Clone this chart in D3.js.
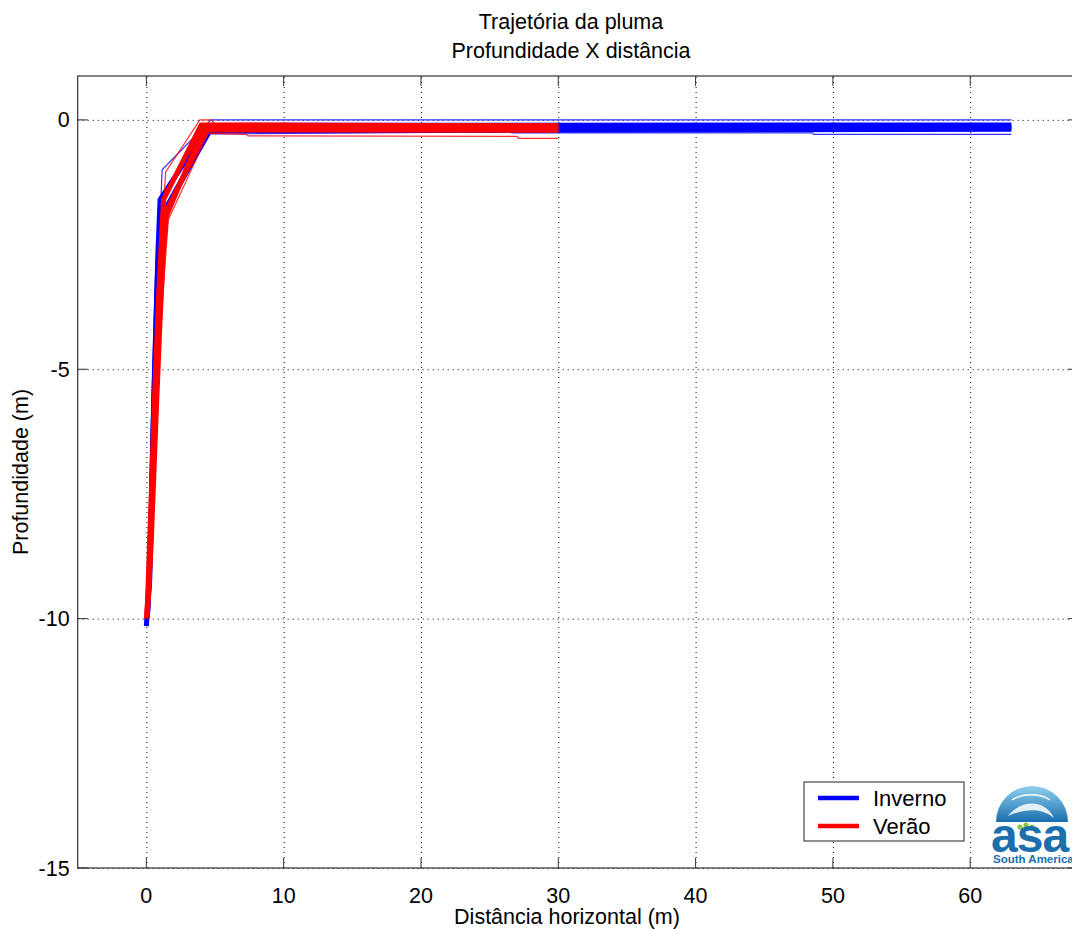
<!DOCTYPE html>
<html>
<head>
<meta charset="utf-8">
<script src="https://cdn.jsdelivr.net/npm/d3@7"></script>
<style>
  body { margin: 0; background: #fff; }
  text { font-family: "Liberation Sans", Arial, sans-serif; fill: #000; }
</style>
</head>
<body>
<svg id="chart" width="1072" height="929"></svg>
<script>
// tick values
var xTicks = [0, 10, 20, 30, 40, 50, 60];
var yTicks = [0, -5, -10, -15];

// Inverno (winter) trajectories: [distance, depth]
var invernoA = [[0, -10.15], [0.15, -9.5], [0.4, -7.5], [0.55, -5.5], [0.7, -4], [0.85, -2.6], [1.0, -1.6], [4.4, -0.17], [63, -0.15]];
var invernoB = [[0.05, -10.0], [0.25, -9.2], [0.45, -6.5], [0.65, -4.6], [0.8, -3.2], [1.0, -2.0], [4.6, -0.22], [63, -0.19]];
var invernoC = [[0.1, -9.9], [0.3, -8.5], [0.55, -6], [0.75, -4.2], [0.95, -2.8], [1.15, -1.9], [4.8, -0.11], [63, -0.1]];
var invernoMax = [[0, -10.1], [0.3, -8], [0.7, -4], [1.15, -1.0], [4.7, 0.0], [63, 0.0]];
var invernoMin = [[0.1, -10.1], [0.5, -6], [0.9, -3], [1.15, -1.95], [4.65, -0.28], [26.5, -0.24], [26.6, -0.26], [48.5, -0.26], [48.6, -0.29], [63, -0.29]];

// Verão (summer) trajectories
var veraoA = [[0, -10.0], [0.2, -9.3], [0.5, -7], [0.8, -5], [1.05, -3.2], [1.35, -2.0], [4.2, -0.14], [30, -0.16]];
var veraoB = [[0.1, -9.8], [0.35, -8.5], [0.7, -6], [1.0, -4], [1.25, -2.6], [1.5, -1.8], [4.4, -0.2], [30, -0.21]];
var veraoC = [[0.05, -9.9], [0.3, -8], [0.6, -5.5], [0.9, -3.5], [1.25, -1.6], [4.0, -0.1], [30, -0.12]];
var veraoMax = [[0, -10.0], [0.5, -6], [1.0, -3], [1.4, -1.05], [3.9, 0], [4.7, 0], [5.0, -0.08], [30, -0.08]];
var veraoMin = [[0.2, -10.0], [0.7, -6], [1.2, -3.5], [1.6, -2.0], [4.5, -0.27], [7.3, -0.29], [7.4, -0.32], [27, -0.33], [27.1, -0.37], [30, -0.37]];

var seriesNames = ["Inverno", "Verão"];
var seriesColors = ["#0000ff", "#ff0000"];

const svg = d3.select("#chart");

var margin = {top: 76, left: 77.7};
var innerWidth = 1000.3;
var innerHeight = 792;

var xScale = d3.scaleLinear().domain([-5, 67.85]).range([0, innerWidth]);
var yScale = d3.scaleLinear().domain([-15, 0.88]).range([innerHeight, 0]);

var g = svg.append("g").attr("transform", `translate(${margin.left},${margin.top})`);

// grid
var xAxis = d3.axisBottom(xScale).tickValues(xTicks).tickSize(-innerHeight).tickFormat("");
var yAxis = d3.axisLeft(yScale).tickValues(yTicks).tickSize(-innerWidth).tickFormat("");

var xGrid = g.append("g").attr("transform", `translate(0,${innerHeight})`).call(xAxis);
xGrid.select(".domain").remove();
xGrid.selectAll("text").remove();
xGrid.selectAll("line").attr("stroke", "#000").attr("stroke-dasharray", "1,4");

var yGrid = g.append("g").call(yAxis);
yGrid.select(".domain").remove();
yGrid.selectAll("text").remove();
yGrid.selectAll("line").attr("stroke", "#000").attr("stroke-dasharray", "1,4");

// trajectories
var line = d3.line().x(d => xScale(d[0])).y(d => yScale(d[1]));

function drawSeason(thick, thin, colour) {
  thin.forEach(function (d) {
    g.append("path").datum(d).attr("d", line)
      .attr("fill", "none").attr("stroke", colour).attr("stroke-width", 1.2)
      .attr("stroke-opacity", 0.8);
  });
  thick.forEach(function (d) {
    g.append("path").datum(d).attr("d", line)
      .attr("fill", "none").attr("stroke", colour).attr("stroke-width", 5)
      .attr("stroke-linejoin", "round");
  });
}

drawSeason([invernoA, invernoB, invernoC], [invernoMax, invernoMin], seriesColors[0]);
drawSeason([veraoA, veraoB, veraoC], [veraoMax, veraoMin], seriesColors[1]);

// frame and ticks (inward, all four sides)
g.append("rect").attr("width", innerWidth).attr("height", innerHeight)
  .attr("fill", "none").attr("stroke", "#333").attr("stroke-width", 1.2);

var tickLen = 10;
xTicks.forEach(function (t) {
  g.append("line").attr("x1", xScale(t)).attr("x2", xScale(t))
    .attr("y1", innerHeight).attr("y2", innerHeight - tickLen).attr("stroke", "#333");
  g.append("line").attr("x1", xScale(t)).attr("x2", xScale(t))
    .attr("y1", 0).attr("y2", tickLen).attr("stroke", "#333");
  g.append("text").attr("x", xScale(t)).attr("y", innerHeight + 35)
    .attr("text-anchor", "middle").attr("font-size", 21.5).text(t);
});
yTicks.forEach(function (t) {
  g.append("line").attr("x1", 0).attr("x2", tickLen)
    .attr("y1", yScale(t)).attr("y2", yScale(t)).attr("stroke", "#333");
  g.append("line").attr("x1", innerWidth).attr("x2", innerWidth - tickLen)
    .attr("y1", yScale(t)).attr("y2", yScale(t)).attr("stroke", "#333");
  g.append("text").attr("x", -8).attr("y", yScale(t) + 7.5)
    .attr("text-anchor", "end").attr("font-size", 21.5).text(t);
});

// titles
svg.append("text").attr("x", 571).attr("y", 29).attr("text-anchor", "middle")
  .attr("font-size", 21.5).text("Trajetória da pluma");
svg.append("text").attr("x", 571).attr("y", 58).attr("text-anchor", "middle")
  .attr("font-size", 21.5).text("Profundidade X distância");
svg.append("text").attr("x", 567).attr("y", 924).attr("text-anchor", "middle")
  .attr("font-size", 21.5).text("Distância horizontal (m)");
svg.append("text").attr("transform", "translate(28,472) rotate(-90)")
  .attr("text-anchor", "middle").attr("font-size", 21.5).text("Profundidade (m)");

// legend
var legend = svg.append("g").attr("transform", "translate(804,782)");
legend.append("rect").attr("width", 160).attr("height", 59)
  .attr("fill", "#fff").attr("stroke", "#222").attr("stroke-width", 1);
seriesNames.forEach(function (name, i) {
  var y = 16 + i * 28;
  legend.append("line").attr("x1", 14).attr("x2", 55).attr("y1", y).attr("y2", y)
    .attr("stroke", seriesColors[i]).attr("stroke-width", 4.5);
  legend.append("text").attr("x", 69).attr("y", y + 8).attr("font-size", 22).text(name);
});

// logo
var defs = svg.append("defs");
var grad = defs.append("linearGradient").attr("id", "dome").attr("x1", 0).attr("y1", 0).attr("x2", 0).attr("y2", 1);
grad.append("stop").attr("offset", "0%").attr("stop-color", "#8fd0ee");
grad.append("stop").attr("offset", "100%").attr("stop-color", "#1a6fae");
var logo = svg.append("g").attr("transform", "translate(1032,822)");
logo.append("path").attr("d", d3.arc()({innerRadius: 0, outerRadius: 36, startAngle: -Math.PI / 2, endAngle: Math.PI / 2}))
  .attr("fill", "url(#dome)");
logo.append("path").attr("d", "M-24,-6 C-10,-24 14,-22 22,-4 C10,-14 -6,-14 -24,-6 Z").attr("fill", "#fff").attr("opacity", 0.85);
logo.append("path").attr("d", "M-20,-22 C-8,-30 10,-28 18,-22").attr("fill", "none").attr("stroke", "#fff").attr("stroke-width", 1.5);
[[-12, 2], [-6, 0], [0, 2]].forEach(function (p) {
  logo.append("circle").attr("cx", p[0]).attr("cy", p[1] + 3).attr("r", 2.6).attr("fill", "#8cc63f");
});
svg.append("text").attr("x", 991).attr("y", 852).attr("font-size", 48).attr("font-weight", "bold")
  .style("fill", "#1b6fad").attr("letter-spacing", -1).text("asa");
svg.append("text").attr("x", 993).attr("y", 863).attr("font-size", 11.5).attr("font-weight", "bold")
  .style("fill", "#1b6fad").text("South America");
</script>
</body>
</html>
